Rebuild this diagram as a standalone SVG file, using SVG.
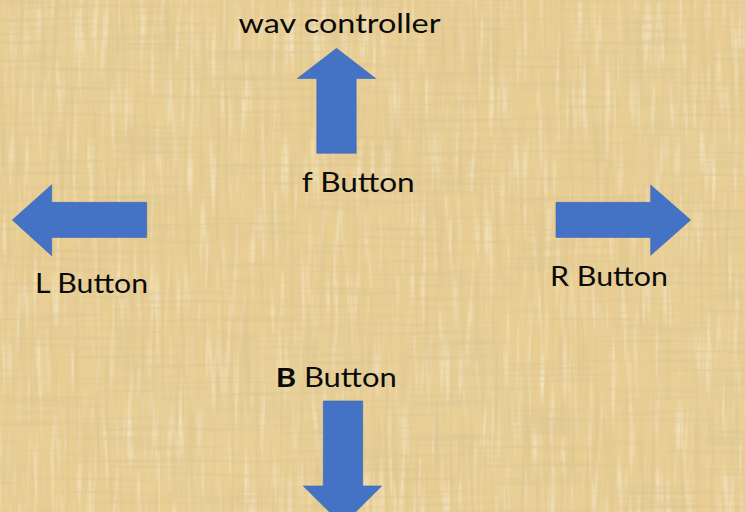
<svg xmlns="http://www.w3.org/2000/svg" width="745" height="512" viewBox="0 0 745 512">
  <style>
    .lbl { font-family: Lato, "Open Sans", "Liberation Sans", sans-serif; font-size: 26px; fill: #0a0a0a; }
    .bold { font-weight: bold; }
    .arrow { fill: #4472C4; stroke: #3d68b5; stroke-width: 0.6; stroke-linejoin: miter; }
  </style>
  <defs>
    <filter id="vstreak" x="0" y="0" width="745" height="512" filterUnits="userSpaceOnUse">
      <feTurbulence type="fractalNoise" baseFrequency="0.2 0.01" numOctaves="2" seed="3" result="n"/>
      <feColorMatrix in="n" type="matrix" values="0 0 0 0 0.7  0 0 0 0 0.55  0 0 0 0 0.27  1.7 0 0 0 -0.8"/>
    </filter>
    <filter id="hstreak" x="0" y="0" width="745" height="512" filterUnits="userSpaceOnUse">
      <feTurbulence type="fractalNoise" baseFrequency="0.01 0.22" numOctaves="2" seed="11" result="n"/>
      <feColorMatrix in="n" type="matrix" values="0 0 0 0 0.7  0 0 0 0 0.56  0 0 0 0 0.3  1.7 0 0 0 -0.8"/>
    </filter>
    <filter id="light" x="0" y="0" width="745" height="512" filterUnits="userSpaceOnUse">
      <feTurbulence type="fractalNoise" baseFrequency="0.18 0.015" numOctaves="2" seed="21" result="n"/>
      <feColorMatrix in="n" type="matrix" values="0 0 0 0 0.98  0 0 0 0 0.93  0 0 0 0 0.8  0 1.4 0 0 -0.72"/>
    </filter>
    <filter id="blot" x="0" y="0" width="745" height="512" filterUnits="userSpaceOnUse">
      <feTurbulence type="fractalNoise" baseFrequency="0.008 0.006" numOctaves="3" seed="5" result="n"/>
      <feColorMatrix in="n" type="matrix" values="0 0 0 0 0.8  0 0 0 0 0.64  0 0 0 0 0.33  1.2 0 0 0 -0.5"/>
    </filter>
  </defs>

  <g id="background">
    <rect x="0" y="0" width="745" height="512" fill="#E9CE93"/>
    <rect x="0" y="0" width="745" height="512" filter="url(#blot)"/>
    <rect x="0" y="0" width="745" height="512" filter="url(#light)"/>
    <rect x="0" y="0" width="745" height="512" filter="url(#vstreak)"/>
    <rect x="0" y="0" width="745" height="512" filter="url(#hstreak)"/>
  </g>

  <g id="connectors">
    <polygon id="arrow-up" class="arrow" points="336.5,48.3 375.7,78.5 356.2,78.5 356.2,153.3 316.8,153.3 316.8,78.5 297.3,78.5"/>
    <polygon id="arrow-left" class="arrow" points="12.3,220 51.7,184.7 51.7,202.3 146.7,202.3 146.7,237.5 51.7,237.5 51.7,255.7"/>
    <polygon id="arrow-right" class="arrow" points="556,202.3 650.7,202.3 650.7,185 690.7,220 650.7,255.3 650.7,237.5 556,237.5"/>
    <polygon id="arrow-down" class="arrow" points="323.3,401 362.7,401 362.7,486 381.7,486 342.5,525 303.3,486 323.3,486"/>
  </g>

  <g id="wav-controller">
    <text class="lbl" x="238.5" y="33.3" textLength="202" lengthAdjust="spacingAndGlyphs">wav controller</text>
  </g>
  <g id="f-button">
    <text class="lbl" x="301.7" y="192.3" textLength="113" lengthAdjust="spacingAndGlyphs">f Button</text>
  </g>
  <g id="l-button">
    <text class="lbl" x="35" y="293.3" textLength="113" lengthAdjust="spacingAndGlyphs">L Button</text>
  </g>
  <g id="r-button">
    <text class="lbl" x="550" y="285.7" textLength="118" lengthAdjust="spacingAndGlyphs">R Button</text>
  </g>
  <g id="b-button">
    <text class="lbl" x="275.7" y="387.3" textLength="121" lengthAdjust="spacingAndGlyphs"><tspan class="bold">B</tspan> Button</text>
  </g>
</svg>
